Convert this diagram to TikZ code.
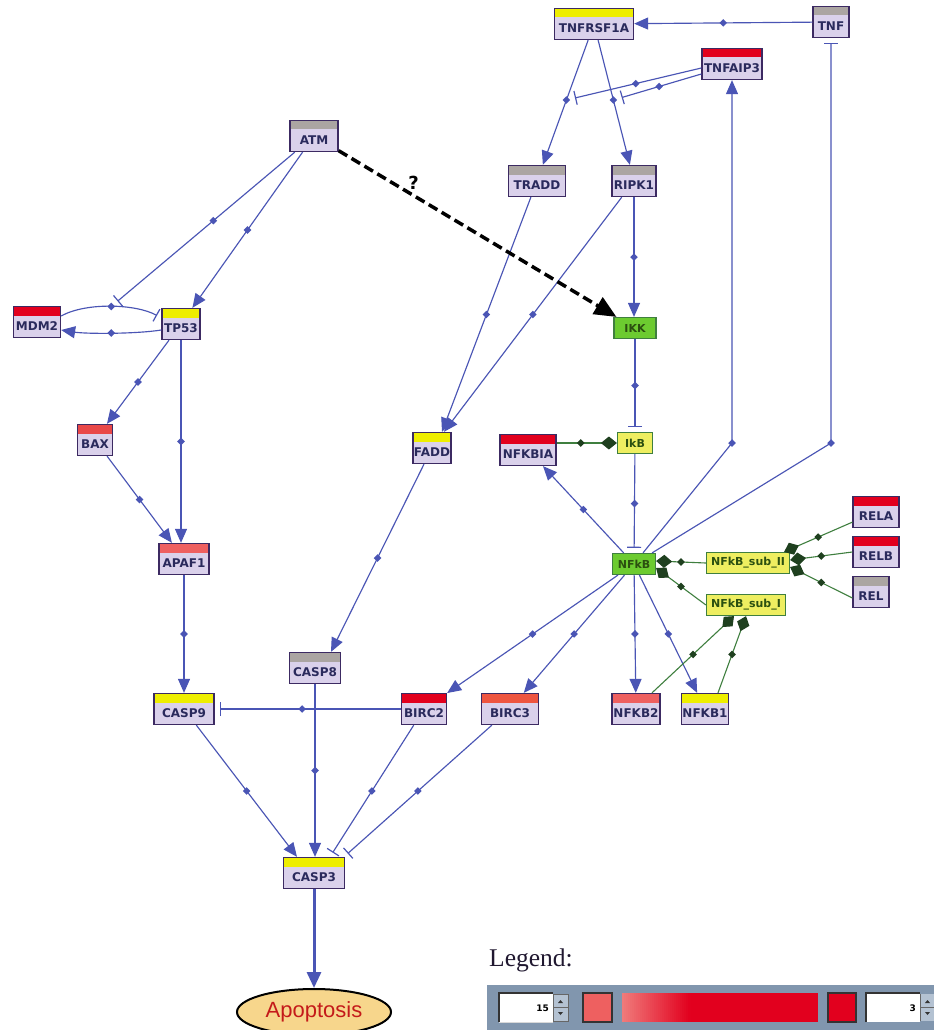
\documentclass[tikz,border=0pt]{standalone}
\usepackage{fontspec}
\setmainfont{DejaVu Sans}
\newfontfamily\legendfam{Liberation Serif}
\newfontfamily\apfam{Liberation Sans}
\usetikzlibrary{arrows.meta,shapes.geometric}
\definecolor{lav}{HTML}{DAD1EB}
\definecolor{nborder}{HTML}{3C2A62}
\definecolor{ntext}{HTML}{2A2A5C}
\definecolor{eblue}{HTML}{4A55B5}
\definecolor{cyel}{HTML}{EEEE00}
\definecolor{cred}{HTML}{E2001E}
\definecolor{csal}{HTML}{EE6060}
\definecolor{csaltwo}{HTML}{E94848}
\definecolor{corange}{HTML}{EE5540}
\definecolor{cgray}{HTML}{ABA5A2}
\definecolor{cgreen}{HTML}{6CCB30}
\definecolor{dgreen}{HTML}{1F401F}
\definecolor{gline}{HTML}{3F7F3F}
\definecolor{gtext}{HTML}{2B5010}
\definecolor{cyfill}{HTML}{EEEE60}
\definecolor{apfill}{HTML}{F7D68C}
\definecolor{apred}{HTML}{C41A1A}
\definecolor{legbg}{HTML}{8196AE}
\definecolor{legtext}{HTML}{201830}
\definecolor{spinbtn}{HTML}{B4C2D2}
\definecolor{gradstart}{HTML}{F07A7A}
\newcommand\genefont{\bfseries\fontsize{12}{14}\selectfont}
\newcommand\cplxfont{\bfseries\fontsize{11}{13}\selectfont}
\begin{document}
\begin{tikzpicture}[x=1pt,y=-1pt,
  gene/.style={draw=nborder, line width=1.3pt, fill=lav, minimum height=31pt,
    inner xsep=1pt, inner ysep=0pt, text height=17.5pt, text depth=0pt,
    font=\genefont, text=ntext,
    path picture={\fill[#1] (path picture bounding box.north west) rectangle
      ([yshift=-9pt]path picture bounding box.north east);}},
  cnode/.style={draw=gline, line width=1.2pt, fill=cgreen, minimum height=21pt,
    inner xsep=1pt, inner ysep=0pt, font=\cplxfont, text=gtext},
  ynode/.style={cnode, fill=cyfill},
  apop/.style={ellipse, draw=black, line width=2pt, fill=apfill, minimum width=154pt,
    minimum height=46pt, inner sep=0pt, font=\apfam\fontsize{22}{24}\selectfont, text=apred},
  edge/.style={draw=eblue, line width=1.15pt},
  act/.style={edge, -{Triangle[length=14pt,width=12pt]}},
  inh/.style={edge, -{Bar[width=14pt,line width=1.2pt]}, shorten >=5pt},
  bigact/.style={draw=eblue, line width=3pt, -{Triangle[length=16pt,width=14pt]}},
  dasharrow/.style={draw=black, line width=3.5pt, dash pattern=on 10pt off 5pt,
    -{Triangle[length=22pt,width=19pt]}},
  dmd/.style={diamond, fill=eblue, inner sep=0pt, minimum size=8pt},
  gdmd/.style={diamond, fill=dgreen, inner sep=0pt, minimum size=8pt},
  cplx/.style={draw=gline, line width=1.1pt, {Diamond[length=16pt,width=13pt,color=dgreen]}-},
]
\useasboundingbox (0,0) rectangle (934,1030);
\fill[white] (0,0) rectangle (934,1030);

% ---------- nodes ----------
\node[gene=cyel, minimum width=79pt] (TNFRSF1A) at (594,24) {TNFRSF1A};
\node[gene=cgray, minimum width=36pt] (TNF) at (831,22) {TNF};
\node[gene=cred, minimum width=60pt] (TNFAIP3) at (732,64) {TNFAIP3};
\node[gene=cgray, minimum width=48pt] (ATM) at (314,136) {ATM};
\node[gene=cgray, minimum width=57pt] (TRADD) at (537,181) {TRADD};
\node[gene=cgray, minimum width=44pt] (RIPK1) at (634,181) {RIPK1};
\node[gene=cred, minimum width=47pt] (MDM2) at (37,322) {MDM2};
\node[gene=cyel, minimum width=38pt] (TP53) at (181,324) {TP53};
\node[cnode, minimum width=42pt] (IKK) at (635,328) {IKK};
\node[gene=csaltwo, minimum width=35pt] (BAX) at (95,440) {BAX};
\node[gene=cyel, minimum width=38pt] (FADD) at (432,448) {FADD};
\node[gene=cred, minimum width=56pt] (NFKBIA) at (528,450) {NFKBIA};
\node[ynode, minimum width=35pt] (IkB) at (635,443) {IkB};
\node[gene=csal, minimum width=50pt] (APAF1) at (184,559) {APAF1};
\node[cnode, minimum width=43pt] (NFkB) at (634,564) {NFkB};
\node[ynode, minimum width=83pt] (subII) at (748,563) {NFkB\_sub\_II};
\node[ynode, minimum width=79pt] (subI) at (746,605) {NFkB\_sub\_I};
\node[gene=cred, minimum width=46pt] (RELA) at (876,512) {RELA};
\node[gene=cred, minimum width=46pt] (RELB) at (876,552) {RELB};
\node[gene=cgray, minimum width=36pt] (REL) at (871,592) {REL};
\node[gene=cgray, minimum width=51pt] (CASP8) at (315,668) {CASP8};
\node[gene=cyel, minimum width=60pt] (CASP9) at (184,709) {CASP9};
\node[gene=cred, minimum width=45pt] (BIRC2) at (424,709) {BIRC2};
\node[gene=corange, minimum width=57pt] (BIRC3) at (510,709) {BIRC3};
\node[gene=csal, minimum width=48pt] (NFKB2) at (636,709) {NFKB2};
\node[gene=cyel, minimum width=47pt] (NFKB1) at (705,709) {NFKB1};
\node[gene=cyel, minimum width=61pt] (CASP3) at (314,873) {CASP3};
\node[apop] (Apop) at (314,1012) {Apoptosis};

% ---------- blue connectors ----------
\draw[act] (TNF) -- node[dmd]{} (TNFRSF1A);
\draw[act] (TNFRSF1A) -- node[dmd,pos=0.48](m1){} (TRADD);
\draw[act] (TNFRSF1A) -- node[dmd,pos=0.48](m2){} (RIPK1);
\draw[inh] ([yshift=-4pt]TNFAIP3.west) -- node[dmd]{} (m1);
\draw[inh] ([yshift=-10pt]TNFAIP3.west) -- node[dmd]{} (m2);
\draw[inh] (NFkB) -- (IkB -| TNF) node[dmd]{} -- (TNF);
\draw[act] (NFkB) -- (IkB -| TNFAIP3) node[dmd]{} -- (TNFAIP3);

\draw[act] (ATM) -- node[dmd]{} (TP53);
\draw[inh] ([yshift=6pt]MDM2.east) .. controls +(25,-14) and +(-25,-14) .. node[dmd](d1){} ([yshift=6pt]TP53.west);
\draw[act] ([yshift=-6pt]TP53.west) .. controls +(-25,4) and +(25,4) .. node[dmd]{} ([yshift=-8pt]MDM2.east);
\draw[inh] (ATM) -- node[dmd,pos=0.45]{} (d1);
\draw[act] (TP53) -- node[dmd]{} (BAX);
\draw[act] (TP53.south) -- node[dmd]{} (TP53.south |- APAF1.north);
\draw[act] (BAX) -- node[dmd]{} (APAF1);
\draw[act] (APAF1) -- node[dmd]{} (CASP9);
\draw[act] (CASP9) -- node[dmd]{} ([xshift=-17pt]CASP3.north);
\draw[act] (CASP8) -- node[dmd]{} (CASP8 |- CASP3.north);
\draw[inh] (BIRC2) -- node[dmd,pos=0.53]{} (CASP9);
\draw[inh] (BIRC2) -- node[dmd]{} ([xshift=16pt]CASP3.north);
\draw[inh] (BIRC3) -- node[dmd]{} ([xshift=30pt]CASP3.north);
\draw[bigact] (CASP3) -- (Apop);

\draw[act] (FADD) -- node[dmd]{} ([xshift=16pt]CASP8.north);
\draw[act] (TRADD) -- node[dmd]{} ([xshift=10pt]FADD.north);
\draw[act] (RIPK1) -- node[dmd]{} ([xshift=12pt]FADD.north);
\draw[act] (RIPK1.south) -- node[dmd]{} (RIPK1.south |- IKK.north);
\draw[dasharrow] (ATM) -- node[pos=0.27, yshift=13pt, font=\bfseries\fontsize{18}{20}\selectfont, text=black]{?} (IKK);
\draw[inh] (IKK) -- node[dmd]{} (IkB);
\draw[inh] (IkB) -- node[dmd]{} (NFkB);

\draw[act] (NFkB) -- node[dmd]{} (NFKBIA);
\draw[act] (NFkB) -- node[dmd]{} (BIRC2);
\draw[act] (NFkB) -- node[dmd]{} (BIRC3);
\draw[act] (NFkB) -- node[dmd]{} (NFKB2);
\draw[act] (NFkB) -- node[dmd]{} (NFKB1);

% ---------- green complex links ----------
\draw[cplx] (IkB.west) -- node[gdmd,pos=0.6]{} (IkB.west -| NFKBIA.east);
\draw[cplx] ([yshift=3pt]NFkB.east) -- node[gdmd]{} (subII.west);
\draw[cplx] ([yshift=-4pt]NFkB.east) -- node[gdmd]{} (subI.west);
\draw[cplx] ([xshift=-6pt]subII.north east) -- node[gdmd]{} ([yshift=6pt]RELA.south west);
\draw[cplx] ([yshift=3pt]subII.east) -- node[gdmd]{} (RELB.west);
\draw[cplx] ([yshift=-4pt]subII.east) -- node[gdmd]{} ([yshift=-6pt]REL.west);
\draw[cplx] ([xshift=-12pt]subI.south) -- node[gdmd]{} ([xshift=16pt]NFKB2.north);
\draw[cplx] (subI.south) -- node[gdmd]{} ([xshift=13pt]NFKB1.north);

% ---------- legend ----------
\node[anchor=base west, inner sep=0pt, font=\legendfam\fontsize{25.5}{28}\selectfont, text=legtext] (legend) at (489,966) {Legend:};
\fill[legbg] (487,985) rectangle (934,1030);
% spin box 1
\fill[white] (499,993) rectangle (553,1022);
\draw[black!80, line width=2pt] (499,1022) -- (499,993) -- (553,993);
\draw[white!85!black, line width=1pt] (499,1022) -- (553,1022);
\node[anchor=east, inner sep=0pt, font=\bfseries\fontsize{9}{10}\selectfont] (v1) at (549,1008) {15};
\fill[spinbtn] (553,994) rectangle (568,1021);
\draw[black!60, line width=0.6pt] (553,994) rectangle (568,1021) (553,1007.5) -- (568,1007.5);
\fill[black!80] (558,1003) -- (563,1003) -- (560.5,1000) -- cycle;
\fill[black!80] (558,1012) -- (563,1012) -- (560.5,1015) -- cycle;
% squares and gradient
\fill[csal] (583,993) rectangle (612,1022);
\draw[black!80, line width=1.5pt] (583,993) rectangle (612,1022);
\fill[cred] (622,993) rectangle (818,1022);
\foreach \i in {0,...,33} {
  \pgfmathsetmacro\pct{100-3*\i}
  \fill[gradstart!\pct!cred] (622+2*\i,993) rectangle (624.6+2*\i,1022);
}
\fill[cred] (828,993) rectangle (856,1022);
\draw[black!80, line width=1.5pt] (828,993) rectangle (856,1022);
% spin box 2
\fill[white] (866,993) rectangle (920,1022);
\draw[black!80, line width=2pt] (866,1022) -- (866,993) -- (920,993);
\node[anchor=east, inner sep=0pt, font=\bfseries\fontsize{9}{10}\selectfont] (v2) at (916,1008) {3};
\fill[spinbtn] (920,994) rectangle (934,1021);
\draw[black!60, line width=0.6pt] (920,994) -- (920,1021) (920,1007.5) -- (934,1007.5);
\fill[black!80] (925,1003) -- (930,1003) -- (927.5,1000) -- cycle;
\fill[black!80] (925,1012) -- (930,1012) -- (927.5,1015) -- cycle;
\end{tikzpicture}
\end{document}
